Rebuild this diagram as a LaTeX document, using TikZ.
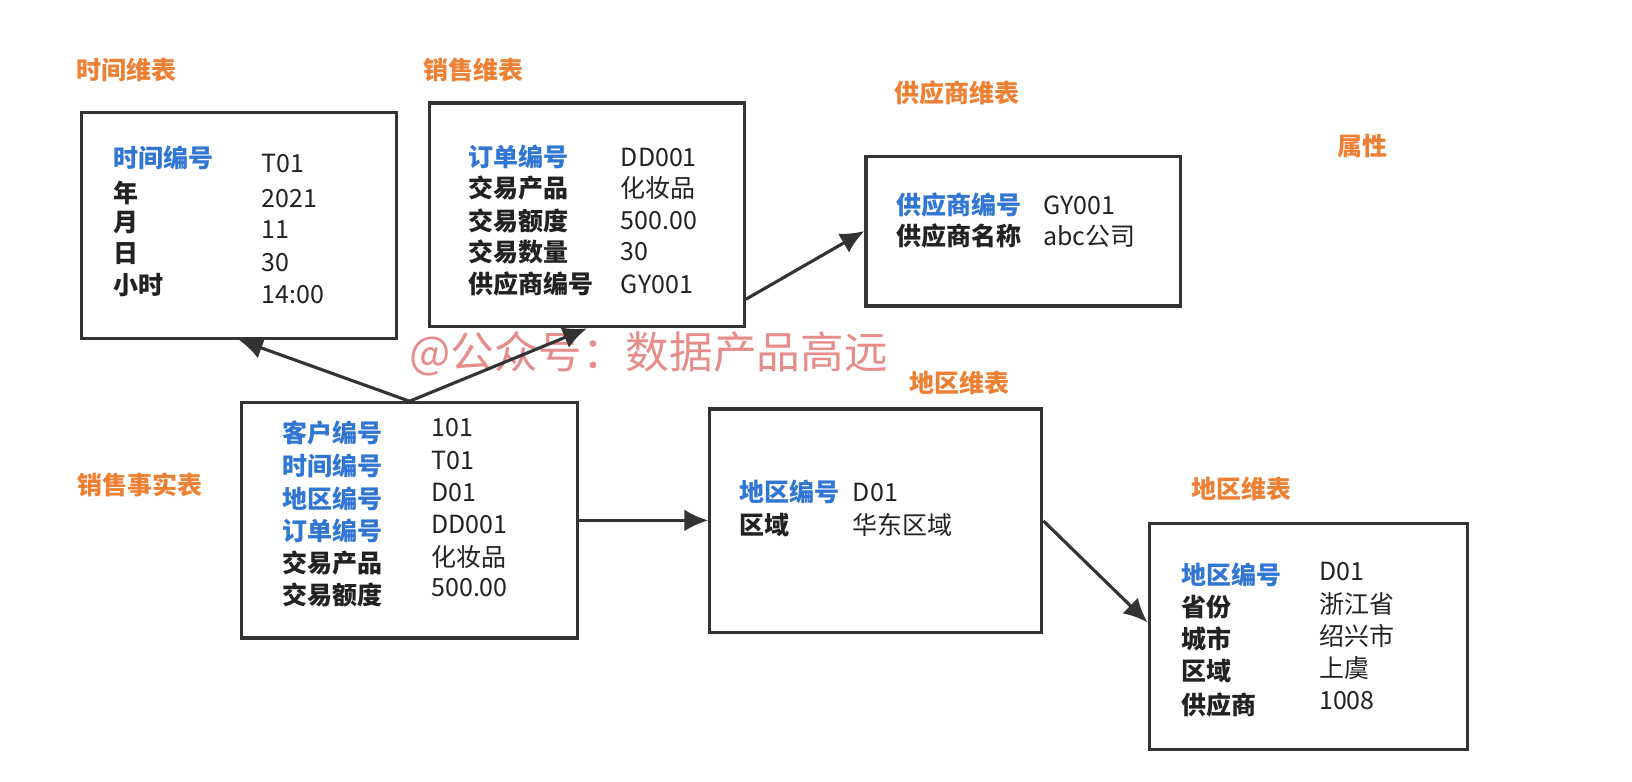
\documentclass[tikz,border=0pt]{standalone}
\usepackage{fontspec}
\setmainfont{Noto Sans CJK SC}
\usetikzlibrary{arrows.meta}

\definecolor{boxgray}{RGB}{51,51,51}
\definecolor{textdark}{RGB}{34,34,34}
\definecolor{keyblue}{RGB}{48,118,210}
\definecolor{titleorange}{RGB}{238,128,52}
\definecolor{markred}{RGB}{226,120,118}

\begin{document}
\begin{tikzpicture}[x=1pt, y=-1pt, line width=3pt, >={Latex[length=23pt,width=21pt]},
    tablebox/.style={draw=boxgray, rectangle, inner sep=0pt},
    title/.style={anchor=west, inner sep=0pt, text=titleorange, font=\fontsize{24}{28}\selectfont\bfseries},
    key/.style={anchor=west, inner sep=0pt, text=textdark, font=\fontsize{24}{28}\selectfont\bfseries},
    pkey/.style={key, text=keyblue},
    val/.style={anchor=west, inner sep=0pt, text=textdark, font=\fontsize{24}{28}\selectfont}]

    \useasboundingbox (0,0) rectangle (1568,751);

    % Titles
    \node at (72, 67) (Ttime) [title] {时间维表};
    \node at (405, 67) (Tsales) [title] {销售维表};
    \node at (858, 89) (Tsupp) [title] {供应商维表};
    \node at (1284, 140) (Tattr) [title] {属性};
    \node at (73, 466) (Tfact) [title] {销售事实表};
    \node at (872, 368) (Tarea) [title] {地区维表};
    \node at (1143, 470) (Tprov) [title] {地区维表};

    % Boxes
    \node at (229.5, 216.5) (time) [tablebox, minimum width=303, minimum height=217] {};
    \node at (564, 206.5) (sales) [tablebox, minimum width=302, minimum height=215] {};
    \node at (983, 222) (supp) [tablebox, minimum width=302, minimum height=144] {};
    \node at (393.5, 500) (fact) [tablebox, minimum width=323, minimum height=226] {};
    \node at (841.5, 500.5) (area) [tablebox, minimum width=319, minimum height=215] {};
    \node at (1257, 611.5) (prov) [tablebox, minimum width=306, minimum height=217] {};

    % Time rows
    \node at (108, 152) (time1k) [pkey] {时间编号};
    \node at (250, 157) (time1v) [val] {T01};
    \node at (108, 185) (time2k) [key] {年};
    \node at (250, 191) (time2v) [val] {2021};
    \node at (108, 214) (time3k) [key] {月};
    \node at (250, 221) (time3v) [val] {11};
    \node at (108, 244) (time4k) [key] {日};
    \node at (250, 252) (time4v) [val] {30};
    \node at (108, 274) (time5k) [key] {小时};
    \node at (250, 283) (time5v) [val] {14:00};

    % Sales rows
    \node at (449, 151) (sales1k) [pkey] {订单编号};
    \node at (595, 151) (sales1v) [val] {DD001};
    \node at (449, 181) (sales2k) [key] {交易产品};
    \node at (595, 181) (sales2v) [val] {化妆品};
    \node at (449, 212) (sales3k) [key] {交易额度};
    \node at (595, 212) (sales3v) [val] {500.00};
    \node at (449, 242) (sales4k) [key] {交易数量};
    \node at (595, 242) (sales4v) [val] {30};
    \node at (449, 273) (sales5k) [key] {供应商编号};
    \node at (595, 273) (sales5v) [val] {GY001};

    % Supplier rows
    \node at (860, 197) (supp1k) [pkey] {供应商编号};
    \node at (1001, 197) (supp1v) [val] {GY001};
    \node at (860, 227) (supp2k) [key] {供应商名称};
    \node at (1001, 227) (supp2v) [val] {abc公司};

    % Fact rows
    \node at (270, 416) (fact1k) [pkey] {客户编号};
    \node at (413, 411) (fact1v) [val] {101};
    \node at (270, 448) (fact2k) [pkey] {时间编号};
    \node at (413, 442) (fact2v) [val] {T01};
    \node at (270, 479) (fact3k) [pkey] {地区编号};
    \node at (413, 473) (fact3v) [val] {D01};
    \node at (270, 510) (fact4k) [pkey] {订单编号};
    \node at (413, 504) (fact4v) [val] {DD001};
    \node at (270, 541) (fact5k) [key] {交易产品};
    \node at (413, 535) (fact5v) [val] {化妆品};
    \node at (270, 572) (fact6k) [key] {交易额度};
    \node at (413, 565) (fact6v) [val] {500.00};

    % Area rows
    \node at (709, 473) (area1k) [pkey] {地区编号};
    \node at (818, 473) (area1v) [val] {D01};
    \node at (709, 504) (area2k) [key] {区域};
    \node at (818, 504) (area2v) [val] {华东区域};

    % Province rows
    \node at (1134, 552) (prov1k) [pkey] {地区编号};
    \node at (1266, 549) (prov1v) [val] {D01};
    \node at (1134, 583) (prov2k) [key] {省份};
    \node at (1266, 580) (prov2v) [val] {浙江省};
    \node at (1134, 614) (prov3k) [key] {城市};
    \node at (1266, 611) (prov3v) [val] {绍兴市};
    \node at (1134, 645) (prov4k) [key] {区域};
    \node at (1266, 642) (prov4v) [val] {上虞};
    \node at (1134, 677) (prov5k) [key] {供应商};
    \node at (1266, 673) (prov5v) [val] {1008};

    % Watermark
    \node at (392, 340) (mark) [anchor=west, inner sep=0pt, text=markred, text opacity=0.85,
        font=\fontsize{42}{46}\selectfont] {@公众号：数据产品高远};

    % Arrows
    \draw[->, boxgray] (fact.north) -- (time.south);
    \draw[->, boxgray] (fact.north) -- (sales.south);
    \draw[->, boxgray] (sales.-28) -- (supp.west);
    \draw[->, boxgray] (fact.east) -- (fact.east -| area.west);
    \draw[->, boxgray] (area.east) -- (prov.175);

\end{tikzpicture}
\end{document}
